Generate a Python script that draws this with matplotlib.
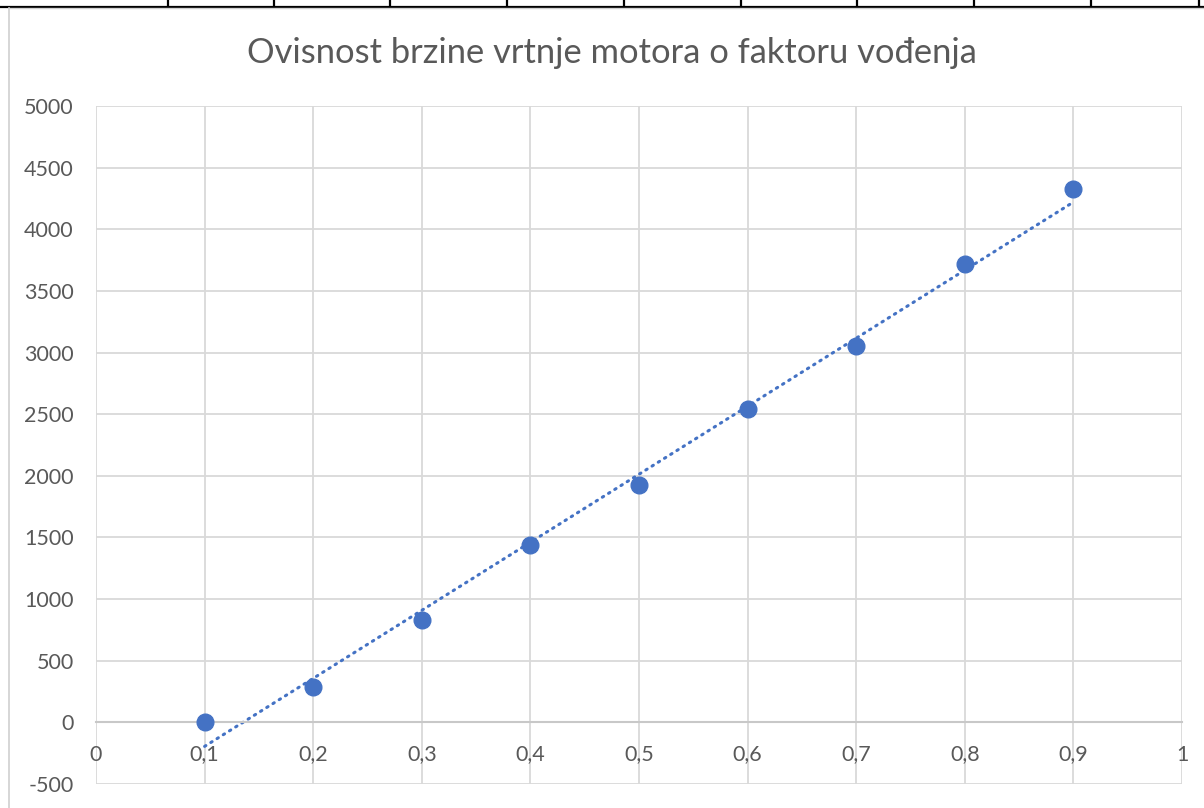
import numpy as np
import matplotlib
matplotlib.use("Agg")
import matplotlib.pyplot as plt
from matplotlib.lines import Line2D
from matplotlib.ticker import FuncFormatter

# duty factor vs motor speed
duty = [0.1, 0.2, 0.3, 0.4, 0.5, 0.6, 0.7, 0.8, 0.9]
speed = [0, 290, 830, 1440, 1925, 2540, 3050, 3715, 4325]
x_ticks = [0, 0.1, 0.2, 0.3, 0.4, 0.5, 0.6, 0.7, 0.8, 0.9, 1.0]
y_ticks = list(range(-500, 5001, 500))
title = "Ovisnost brzine vrtnje motora o faktoru vođenja"

BLUE = "#4472C4"
GRID = "#d9d9d9"
TXT = "#595959"

plt.rcParams["font.family"] = ["Lato", "DejaVu Sans"]
plt.rcParams["axes.unicode_minus"] = False

W, H = 1204, 808
fig = plt.figure(figsize=(W / 100, H / 100), dpi=100)

# spreadsheet cell borders above the chart
fig.add_artist(Line2D([0, 1], [1 - 6.5 / H, 1 - 6.5 / H], color="black", lw=1.6))
for cx in [168, 274, 390, 507, 624, 741, 857, 974, 1091, 1199]:
    fig.add_artist(Line2D([cx / W, cx / W], [1 - 6.5 / H, 1], color="black", lw=1.6))
# chart area border
fig.add_artist(Line2D([8.5 / W, 8.5 / W], [0, 1 - 8 / H], color="#d0d0d0", lw=1.2))
fig.add_artist(Line2D([8.5 / W, 1], [1 - 8 / H, 1 - 8 / H], color="#d0d0d0", lw=1.0))

left, right, top, bottom = 96, 1182, 106, 784
ax = fig.add_axes([left / W, (H - bottom) / H, (right - left) / W, (bottom - top) / H])

ax.set_xlim(0, 1)
ax.set_ylim(-500, 5000)
ax.set_xticks(x_ticks)
ax.set_yticks(y_ticks)
ax.grid(True, color=GRID, lw=1.3)
ax.set_axisbelow(True)

for s in ["top", "right", "left"]:
    ax.spines[s].set_visible(False)
ax.spines["bottom"].set_position(("data", 0))
ax.spines["bottom"].set_color("#c8c8c8")
ax.spines["bottom"].set_linewidth(1.5)

fmt = FuncFormatter(lambda v, p: f"{v:g}".replace(".", ","))
ax.xaxis.set_major_formatter(fmt)
ax.tick_params(axis="both", length=0, labelsize=15.5, labelcolor=TXT)
ax.tick_params(axis="x", pad=16)
ax.tick_params(axis="y", pad=16)

ax.plot(duty, speed, "o", color=BLUE, markersize=12, zorder=3, clip_on=False)

# linear trendline
k, n = np.polyfit(duty, speed, 1)
tx = np.array([duty[0], duty[-1]])
ax.plot(tx, k * tx + n, color=BLUE, lw=2.2, linestyle=(0, (0.5, 1.9)),
        dash_capstyle="round", zorder=2)

fig.text(612 / W, 1 - 53 / H, title, ha="center", va="center",
         fontsize=24.8, color=TXT)

fig.savefig("out.png", dpi=100, facecolor="white")
